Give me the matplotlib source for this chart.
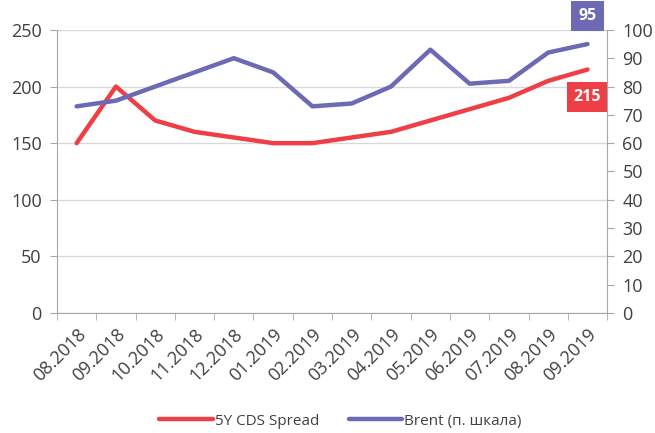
import matplotlib
matplotlib.use("Agg")
import matplotlib.pyplot as plt
import numpy as np

months = ['08.2018', '09.2018', '10.2018', '11.2018', '12.2018', '01.2019', '02.2019',
          '03.2019', '04.2019', '05.2019', '06.2019', '07.2019', '08.2019', '09.2019']
cds = [150, 200, 170, 160, 155, 150, 150, 155, 160, 170, 180, 190, 205, 215]
brent = [73, 75, 80, 85, 90, 85, 73, 74, 80, 93, 81, 82, 92, 95]

red = '#EE3F46'
purple = '#6D6AB5'
txt = '#404040'
grid = '#D9D9D9'
spine = '#A6A6A6'

plt.rcParams['font.family'] = ['Open Sans', 'DejaVu Sans']

fig, ax = plt.subplots(figsize=(6.55, 4.33), dpi=100)
fig.subplots_adjust(left=0.087, right=0.927, top=0.931, bottom=0.277)
ax2 = ax.twinx()

x = np.arange(len(months))
l1, = ax.plot(x, cds, color=red, lw=3.2, solid_capstyle='round', label='5Y CDS Spread', zorder=3)
l2, = ax2.plot(x, brent, color=purple, lw=3.2, solid_capstyle='round', label='Brent (п. шкала)', zorder=3)

ax.set_ylim(0, 250)
ax.set_yticks(range(0, 251, 50))
ax2.set_ylim(0, 100)
ax2.set_yticks(range(0, 101, 10))
ax.set_xlim(-0.5, len(months) - 0.5)

ax.yaxis.grid(True, color=grid, lw=1)
ax.set_axisbelow(True)

for a in (ax, ax2):
    a.tick_params(axis='both', labelsize=13, labelcolor=txt, color=spine)
    a.tick_params(axis='y', length=5, pad=6)
    for s in a.spines.values():
        s.set_visible(False)

# labels under category centres, tick marks on the boundaries
ax.set_xticks(x)
ax.set_xticklabels(months, rotation=45, ha='right', rotation_mode='anchor')
ax.set_xticks(np.arange(-0.5, len(months), 1), minor=True)
ax.tick_params(axis='x', which='major', length=0, pad=9)
ax.tick_params(axis='x', which='minor', length=5, color=spine)

ax.spines['left'].set_visible(True)
ax.spines['bottom'].set_visible(True)
ax2.spines['right'].set_visible(True)
for s in (ax.spines['left'], ax.spines['bottom'], ax2.spines['right']):
    s.set_color(spine)

# last-value tags
ax2.annotate(str(brent[-1]), (x[-1], brent[-1]), xytext=(0, 20), textcoords='offset points',
             ha='center', va='center', color='white', fontsize=11.5, fontweight='bold',
             bbox=dict(boxstyle='square,pad=0.45', fc=purple, ec='none'), annotation_clip=False)
ax.annotate(str(cds[-1]), (x[-1], cds[-1]), xytext=(0, -20), textcoords='offset points',
            ha='center', va='center', color='white', fontsize=11.5, fontweight='bold',
            bbox=dict(boxstyle='square,pad=0.45', fc=red, ec='none'), annotation_clip=False)

fig.legend(handles=[l1, l2], loc='lower center', bbox_to_anchor=(0.52, -0.022), ncol=2,
           frameon=False, fontsize=11, handlelength=3.5, handletextpad=0.15,
           columnspacing=1.9, labelcolor=txt)

fig.savefig('out.png', dpi=100)
